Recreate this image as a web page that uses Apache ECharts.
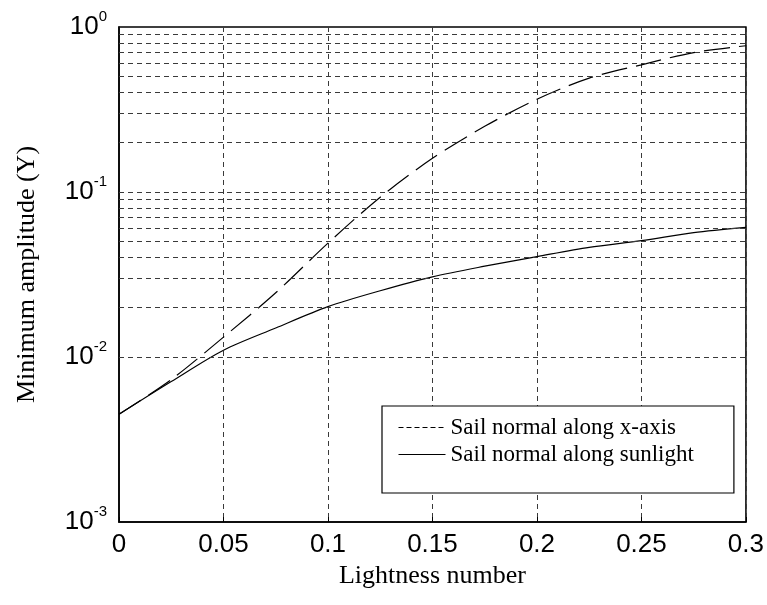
<!DOCTYPE html>
<html>
<head>
<meta charset="utf-8">
<script src="https://cdn.jsdelivr.net/npm/echarts@6/dist/echarts.min.js"></script>
<style>
html,body{margin:0;padding:0;background:#fff;}
#c{width:767px;height:605px;}
</style>
</head>
<body>
<div id="c"></div>
<script>
// ---- data ----
const lightness = [0, 0.025, 0.05, 0.075, 0.1, 0.125, 0.15, 0.175, 0.2, 0.225, 0.25, 0.275, 0.3];
const xAxisNormal = [0.0045, 0.0073, 0.0132, 0.0245, 0.049, 0.093, 0.16, 0.25, 0.365, 0.49, 0.59, 0.70, 0.77];
const sunlightNormal = [0.0045, 0.0071, 0.0110, 0.0150, 0.0202, 0.0252, 0.0306, 0.0355, 0.0406, 0.0462, 0.0507, 0.0567, 0.0610];
const xTicks = [0, 0.05, 0.1, 0.15, 0.2, 0.25, 0.3];
const yTicks = [0.001, 0.01, 0.1, 1];
const yGridValues = [0.002,0.003,0.004,0.005,0.006,0.007,0.008,0.009,0.01,
                     0.02,0.03,0.04,0.05,0.06,0.07,0.08,0.09,0.1,
                     0.2,0.3,0.4,0.5,0.6,0.7,0.8,0.9];
const seriesNames = ['Sail normal along x-axis', 'Sail normal along sunlight'];

const gridDash = {color: '#3a3a3a', type: [5, 4], width: 1};
const hiddenSymbol = {color: 'transparent', borderWidth: 0, opacity: 0};
const chart = echarts.init(document.getElementById('c'), null, {renderer: 'canvas'});
chart.setOption({
  animation: false,
  backgroundColor: '#fff',
  grid: {left: 119, top: 27, right: 21, bottom: 83, show: true, borderColor: '#000', borderWidth: 1.5, backgroundColor: 'transparent'},
  xAxis: {
    type: 'value', min: 0, max: 0.3, interval: 0.05,
    name: 'Lightness number', nameLocation: 'middle', nameGap: 35,
    nameTextStyle: {fontFamily: 'Liberation Serif', fontSize: 26, color: '#000'},
    axisLine: {lineStyle: {color: '#000', width: 1.5}},
    axisTick: {inside: true, length: 5, lineStyle: {color: '#000'}},
    axisLabel: {fontFamily: 'Liberation Sans', fontSize: 26, color: '#000', margin: 10,
      formatter: v => { const t = xTicks.find(k => Math.abs(k - v) < 1e-9); return t === undefined ? '' : String(t); }},
    splitLine: {show: true, lineStyle: gridDash}
  },
  yAxis: {
    type: 'log', logBase: 10, min: yTicks[0], max: yTicks[yTicks.length - 1],
    name: 'Minimum amplitude (Y)', nameLocation: 'middle', nameGap: 79, nameRotate: 90,
    nameTextStyle: {fontFamily: 'Liberation Serif', fontSize: 26, color: '#000'},
    axisLine: {lineStyle: {color: '#000', width: 1.5}},
    axisTick: {show: false},
    axisLabel: {margin: 12, color: '#000',
      formatter: v => '{b|10}{s|' + Math.round(Math.log10(v)) + '}',
      rich: {
        b: {fontFamily: 'Liberation Sans', fontSize: 26, lineHeight: 36, color: '#000'},
        s: {fontFamily: 'Liberation Sans', fontSize: 15, lineHeight: 15, verticalAlign: 'top', color: '#000'}
      }},
    splitLine: {show: false}
  },
  legend: {
    left: 382, top: 406, orient: 'vertical', align: 'left',
    backgroundColor: '#fff', borderColor: '#000', borderWidth: 1.2,
    padding: [10, 40, 27, 16], itemGap: 4, itemWidth: 47, itemHeight: 14,
    textStyle: {fontFamily: 'Liberation Serif', fontSize: 23, color: '#000', lineHeight: 23},
    data: [
      {name: seriesNames[0], itemStyle: hiddenSymbol, lineStyle: {type: [5, 3], width: 1, color: '#000'}},
      {name: seriesNames[1], itemStyle: hiddenSymbol, lineStyle: {type: 'solid', width: 1, color: '#000'}}
    ]
  },
  series: [
    {
      name: 'grid', type: 'line', data: [], silent: true,
      markLine: {silent: true, symbol: 'none', label: {show: false},
        lineStyle: gridDash,
        data: yGridValues.map(v => ({yAxis: v}))}
    },
    {
      name: seriesNames[0], type: 'line', smooth: 0.3, showSymbol: false, symbol: 'none',
      data: lightness.map((x, i) => [x, xAxisNormal[i]]),
      lineStyle: {color: '#000', width: 1.2, type: [26, 9]}, itemStyle: {color: '#000'}
    },
    {
      name: seriesNames[1], type: 'line', smooth: 0.3, showSymbol: false, symbol: 'none',
      data: lightness.map((x, i) => [x, sunlightNormal[i]]),
      lineStyle: {color: '#000', width: 1.2, type: 'solid'}, itemStyle: {color: '#000'}
    }
  ]
});
</script>
</body>
</html>
